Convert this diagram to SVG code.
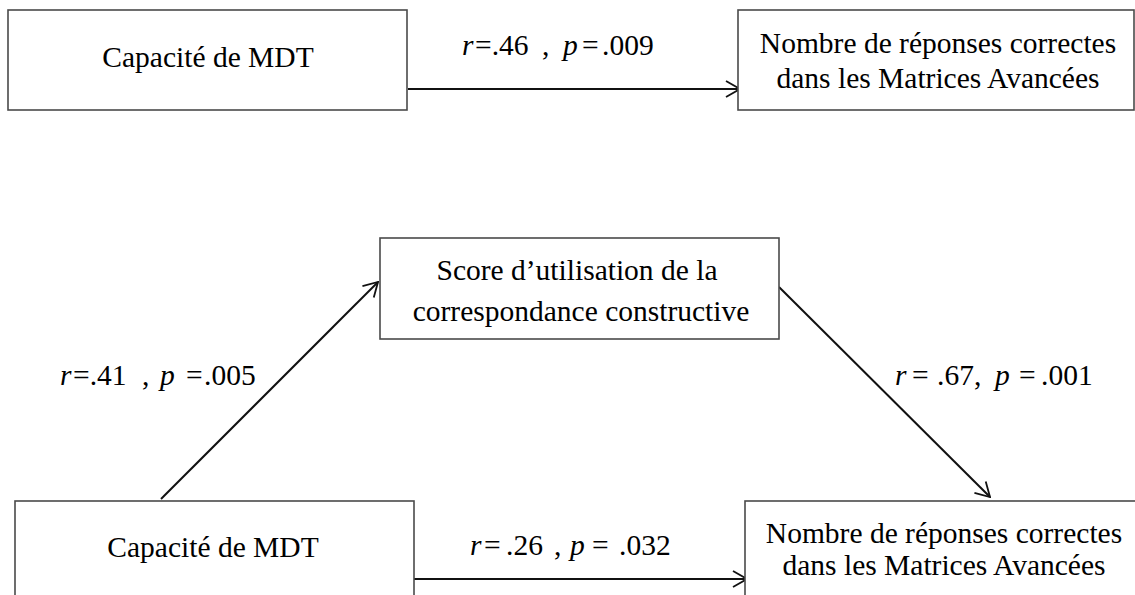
<svg xmlns="http://www.w3.org/2000/svg" width="1135" height="595" viewBox="0 0 1135 595">
<style>
.box{fill:#fff;stroke:#4a4a4a;stroke-width:1.6}
.t{font-family:"Liberation Serif","Times New Roman",serif;font-size:29.5px;fill:#000}
.c{text-anchor:middle}
.i{font-style:italic}
.ln{stroke:#111;stroke-width:2;fill:none;marker-end:url(#arr)}
</style>
<defs>
<marker id="arr" viewBox="0 0 16 18" refX="15" refY="9" markerWidth="16" markerHeight="18" markerUnits="userSpaceOnUse" orient="auto">
<path d="M1,1 L15,9 L1,17" fill="none" stroke="#111" stroke-width="1.8"/>
</marker>
</defs>
<rect width="1135" height="595" fill="#fff"/>
<g id="connectors">
<line class="ln" x1="408" y1="89" x2="740" y2="89"/>
<line class="ln" x1="161" y1="499" x2="378" y2="282"/>
<line class="ln" x1="779" y1="287" x2="990" y2="497"/>
<line class="ln" x1="414" y1="579" x2="747" y2="579"/>
</g>
<g id="labels" class="t">
<text y="55"><tspan x="462" class="i">r</tspan><tspan x="475">=.46</tspan><tspan x="542">,</tspan><tspan x="563" class="i">p</tspan><tspan x="582">=</tspan><tspan x="602">.009</tspan></text>
<text y="385"><tspan x="60" class="i">r</tspan><tspan x="73">=.41</tspan><tspan x="142">,</tspan><tspan x="160" class="i">p</tspan><tspan x="186">=</tspan><tspan x="204">.005</tspan></text>
<text y="385"><tspan x="895" class="i">r</tspan><tspan x="912">=</tspan><tspan x="937">.67,</tspan><tspan x="995" class="i">p</tspan><tspan x="1019">=</tspan><tspan x="1041">.001</tspan></text>
<text y="555"><tspan x="470" class="i">r</tspan><tspan x="484">=</tspan><tspan x="506">.26</tspan><tspan x="554">,</tspan><tspan x="570" class="i">p</tspan><tspan x="592">=</tspan><tspan x="619">.032</tspan></text>
</g>
<g id="node-mdt-top">
<rect class="box" x="8" y="10" width="399" height="100"/>
<text class="t c" x="208" y="67">Capacité de MDT</text>
</g>
<g id="node-nombre-top">
<rect class="box" x="738" y="10" width="396" height="100"/>
<text class="t c" x="938" y="53">Nombre de réponses correctes</text>
<text class="t c" x="938" y="88">dans les Matrices Avancées</text>
</g>
<g id="node-score">
<rect class="box" x="380" y="238" width="399" height="101"/>
<text class="t c" x="577" y="280">Score d’utilisation de la</text>
<text class="t c" x="581" y="321">correspondance constructive</text>
</g>
<g id="node-mdt-bottom">
<rect class="box" x="15" y="501" width="399" height="100"/>
<text class="t c" x="213" y="557">Capacité de MDT</text>
</g>
<g id="node-nombre-bottom">
<rect class="box" x="745" y="501" width="400" height="100"/>
<text class="t c" x="944" y="543">Nombre de réponses correctes</text>
<text class="t c" x="944" y="575">dans les Matrices Avancées</text>
</g>
</svg>
